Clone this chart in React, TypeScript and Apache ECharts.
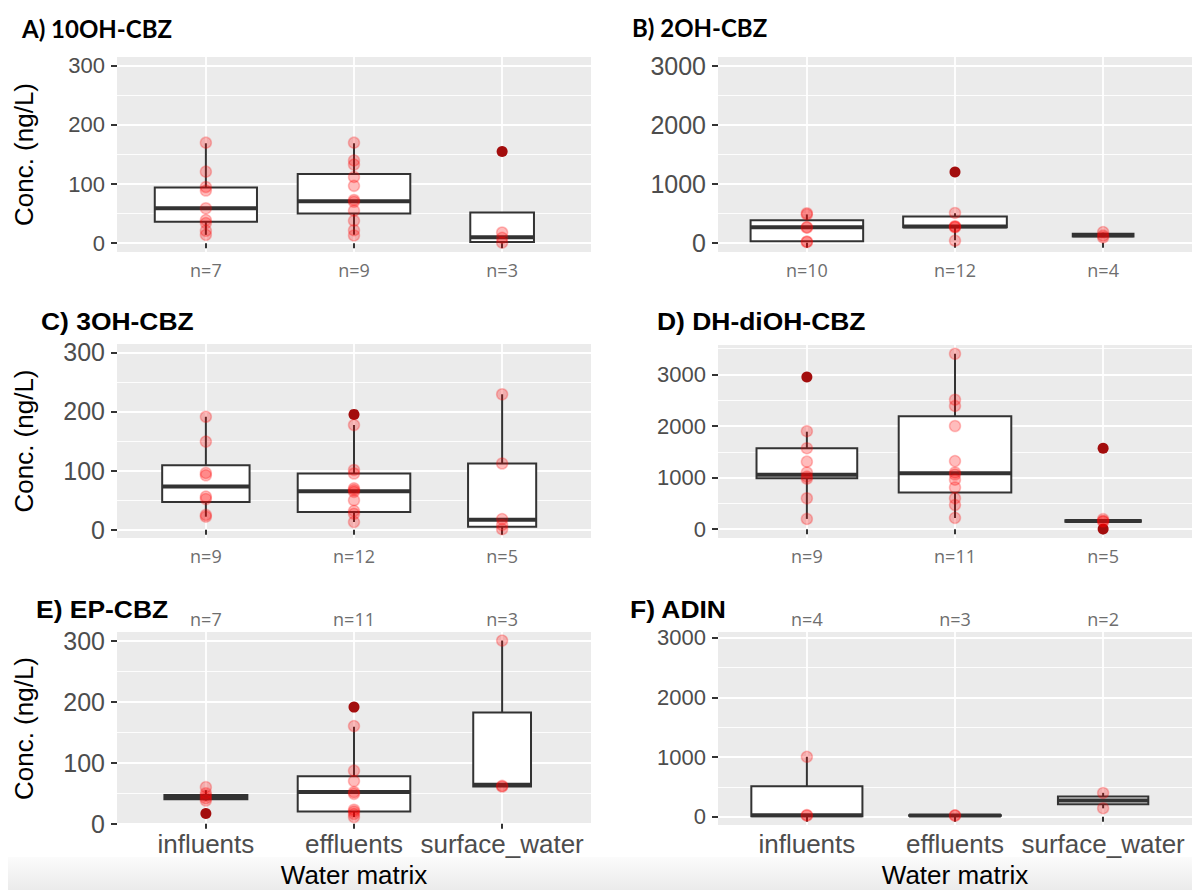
import React, { useEffect, useRef } from 'react';
import * as echarts from 'echarts';

// ---------- DATA ----------
const categories = ['influents', 'effluents', 'surface_water'];

// A) 10OH-CBZ
const nA = ['n=7', 'n=9', 'n=3'];
const boxA = [[14, 36, 59, 94, 169], [14, 50, 71, 117, 169], [0, 2, 10, 52, 52]]; // [low, q1, median, q3, high]
const ptsA = [[170, 121, 95, 89, 59, 39, 34, 21, 14], [170, 140, 133, 112, 97, 73, 70, 55, 38, 22, 13], [18, 9, 1]];
const outA = [[], [], [155]];

// B) 2OH-CBZ
const nB = ['n=10', 'n=12', 'n=4'];
const boxB = [[15, 25, 260, 380, 480], [40, 260, 275, 445, 500], [95, 105, 125, 150, 170]];
const ptsB = [[500, 480, 265, 255, 18, 12], [505, 280, 270, 262, 35], [180, 120, 90]];
const outB = [[], [1200], []];

// C) 3OH-CBZ
const nC = ['n=9', 'n=12', 'n=5'];
const boxC = [[22, 47, 73, 109, 191], [13, 30, 65, 95, 177], [0, 5, 17, 112, 229]];
const ptsC = [[191, 149, 96, 92, 56, 52, 25, 22], [177, 101, 95, 70, 67, 64, 50, 32, 27, 13], [229, 112, 18, 8, 1]];
const outC = [[], [195], []];

// D) DH-diOH-CBZ
const nD = ['n=9', 'n=11', 'n=5'];
const boxD = [[200, 990, 1055, 1570, 1890], [218, 713, 1085, 2190, 3400], [140, 145, 160, 175, 190]];
const ptsD = [[1900, 1570, 1310, 1100, 1020, 980, 600, 200], [3400, 2510, 2390, 2000, 1320, 1100, 1060, 960, 810, 600, 470, 220], [195, 160, 150]];
const outD = [[2950], [], [1570, 5]];

// E) EP-CBZ
const nE = ['n=7', 'n=11', 'n=3'];
const boxE = [[38, 40, 44, 47, 55], [11, 20, 52, 78, 159], [61, 61, 64, 182, 300]];
const ptsE = [[60, 50, 46, 42, 38], [160, 87, 70, 52, 49, 23, 20, 16, 11], [300, 62, 61]];
const outE = [[17], [191], []];

// F) ADIN
const nF = ['n=4', 'n=3', 'n=2'];
const boxF = [[0, 5, 25, 510, 1005], [10, 15, 20, 25, 30], [140, 210, 270, 340, 400]];
const ptsF = [[1005, 25, 20], [22, 18], [398, 142]];
const outF = [[], [], []];

// tick values
const ticksLow = [0, 100, 200, 300];
const minorLow = [50, 150, 250];
const ticksHigh = [0, 1000, 2000, 3000];
const minorHigh = [500, 1500, 2500];
const minorHighD = [500, 1500, 2500, 3500];

// ---------- LAYOUT / STYLE ----------
const boxWidths = {
  A: [0.69, 0.76, 0.43],
  B: [0.76, 0.70, 0.41],
  C: [0.59, 0.76, 0.46],
  D: [0.68, 0.76, 0.51],
  E: [0.56, 0.76, 0.39],
  F: [0.75, 0.62, 0.61],
};

const panels = [
  { key: 'A', title: 'A) 10OH-CBZ', box: boxA, pts: ptsA, out: outA, n: nA, ticks: ticksLow, minor: minorLow, min: -15, max: 315,
    grid: { left: 117, top: 57, width: 474, height: 195 }, bottom: false, yName: true, labelSize: 22,
    t: { x: 22, y: 28, font: 'Lato', size: 24, sx: 1 } },
  { key: 'B', title: 'B) 2OH-CBZ', box: boxB, pts: ptsB, out: outB, n: nB, ticks: ticksHigh, minor: minorHigh, min: -158, max: 3152,
    grid: { left: 718, top: 57, width: 474, height: 195 }, bottom: false, yName: false, labelSize: 25,
    t: { x: 632, y: 27, font: 'Lato', size: 24, sx: 1 } },
  { key: 'C', title: 'C) 3OH-CBZ', box: boxC, pts: ptsC, out: outC, n: nC, ticks: ticksLow, minor: minorLow, min: -14, max: 314,
    grid: { left: 117, top: 344, width: 474, height: 194 }, bottom: false, yName: true, labelSize: 25,
    t: { x: 41, y: 322, font: 'Liberation Sans', size: 23, sx: 1.15 } },
  { key: 'D', title: 'D) DH-diOH-CBZ', box: boxD, pts: ptsD, out: outD, n: nD, ticks: ticksHigh, minor: minorHighD, min: -170, max: 3570,
    grid: { left: 718, top: 345, width: 474, height: 193 }, bottom: false, yName: false, labelSize: 22,
    t: { x: 657, y: 322, font: 'Liberation Sans', size: 23, sx: 1.15 } },
  { key: 'E', title: 'E) EP-CBZ', box: boxE, pts: ptsE, out: outE, n: nE, ticks: ticksLow, minor: minorLow, min: -2, max: 314,
    grid: { left: 117, top: 632, width: 474, height: 193 }, bottom: true, yName: true, labelSize: 25,
    t: { x: 36, y: 610, font: 'Liberation Sans', size: 23, sx: 1.15 } },
  { key: 'F', title: 'F) ADIN', box: boxF, pts: ptsF, out: outF, n: nF, ticks: ticksHigh, minor: minorHigh, min: -140, max: 3100,
    grid: { left: 718, top: 632, width: 474, height: 193 }, bottom: true, yName: false, labelSize: 22,
    t: { x: 630, y: 610, font: 'Liberation Sans', size: 23, sx: 1.15 } },
];

const TICK_COLOR = '#333333';
const LABEL_COLOR = '#4d4d4d';
const N_COLOR = '#6e6e6e';
const BOX_STROKE = '#333333';

const renderBox = (params: any, api: any) => {
  const x = api.value(0);
  const lo = api.value(1), q1 = api.value(2), md = api.value(3), q3 = api.value(4), hi = api.value(5), w = api.value(6);
  const c = api.coord([x, md]);
  const pLo = api.coord([x, lo]);
  const pHi = api.coord([x, hi]);
  const pL = api.coord([x - w / 2, q3]);
  const pR = api.coord([x + w / 2, q1]);
  return {
    type: 'group',
    children: [
      { type: 'line', shape: { x1: c[0], y1: pHi[1], x2: c[0], y2: pL[1] }, style: { stroke: BOX_STROKE, lineWidth: 2 } },
      { type: 'line', shape: { x1: c[0], y1: pR[1], x2: c[0], y2: pLo[1] }, style: { stroke: BOX_STROKE, lineWidth: 2 } },
      { type: 'rect', shape: { x: pL[0], y: pL[1], width: pR[0] - pL[0], height: pR[1] - pL[1] }, style: { fill: '#ffffff', stroke: BOX_STROKE, lineWidth: 2 } },
      { type: 'line', shape: { x1: pL[0], y1: c[1], x2: pR[0], y2: c[1] }, style: { stroke: BOX_STROKE, lineWidth: 4 } },
    ],
  };
};

function buildOption() {
  const grid: any[] = [];
  const xAxis: any[] = [];
  const yAxis: any[] = [];
  const series: any[] = [];
  const graphic: any[] = [];

  panels.forEach((p, gi) => {
    grid.push({ ...p.grid, show: true, backgroundColor: '#ebebeb', borderWidth: 0, containLabel: false });

    const xi = xAxis.length;
    const bottomLabels = p.bottom ? categories : p.n;
    xAxis.push({
      type: 'value', gridIndex: gi, min: 0.4, max: 3.6, position: 'bottom',
      axisLine: { show: false },
      axisTick: { show: true, customValues: [1, 2, 3], length: 5, lineStyle: { color: TICK_COLOR, width: 2 } },
      axisLabel: {
        customValues: [1, 2, 3],
        formatter: (v: number) => bottomLabels[Math.round(v) - 1] || '',
        color: p.bottom ? LABEL_COLOR : N_COLOR,
        fontSize: p.bottom ? 26 : 18,
        fontFamily: p.bottom ? 'Liberation Sans' : 'Open Sans',
        margin: p.bottom ? 6 : 9,
      },
      splitLine: { show: true, lineStyle: { color: '#ffffff', width: 1.8 } },
      name: p.bottom ? 'Water matrix' : '',
      nameLocation: 'middle', nameGap: 37,
      nameTextStyle: { color: '#000', fontSize: 26, fontFamily: 'Liberation Sans' },
    });
    if (p.bottom) {
      xAxis.push({
        type: 'value', gridIndex: gi, min: 0.4, max: 3.6, position: 'top',
        axisLine: { show: false }, axisTick: { show: false, customValues: [1, 2, 3] },
        splitLine: { show: false },
        axisLabel: {
          customValues: [1, 2, 3],
          formatter: (v: number) => p.n[Math.round(v) - 1] || '',
          color: N_COLOR, fontSize: 18, fontFamily: 'Open Sans', margin: 4,
        },
      });
    }

    const yi = yAxis.length;
    yAxis.push({
      type: 'value', gridIndex: gi, min: p.min, max: p.max, position: 'left',
      axisLine: { show: false },
      axisTick: { show: true, customValues: p.ticks, length: 6, lineStyle: { color: TICK_COLOR, width: 2 } },
      axisLabel: {
        customValues: p.ticks, formatter: (v: number) => String(v),
        color: LABEL_COLOR, fontSize: p.labelSize, fontFamily: 'Liberation Sans', margin: 12,
      },
      splitLine: { show: true, lineStyle: { color: '#ffffff', width: 1.8 } },
      name: p.yName ? 'Conc. (ng/L)' : '',
      nameLocation: 'middle', nameGap: 80, nameRotate: 90,
      nameTextStyle: { color: '#000', fontSize: 26, fontFamily: 'Liberation Sans' },
    });
    yAxis.push({
      type: 'value', gridIndex: gi, min: p.min, max: p.max, position: 'left',
      axisLine: { show: false },
      axisTick: { show: false, customValues: p.minor },
      axisLabel: { show: false, customValues: p.minor },
      splitLine: { show: true, lineStyle: { color: '#ffffff', width: 0.9 } },
    });

    const w = (boxWidths as any)[p.key];
    series.push({
      type: 'custom', xAxisIndex: xi, yAxisIndex: yi, renderItem: renderBox, clip: false, z: 2,
      dimensions: ['x', 'low', 'q1', 'median', 'q3', 'high', 'w'],
      encode: { x: 0, y: [1, 2, 3, 4, 5] },
      data: p.box.map((b, i) => [i + 1, ...b, w[i]]),
    });
    series.push({
      type: 'scatter', xAxisIndex: xi, yAxisIndex: yi, z: 3,
      symbolSize: 11,
      itemStyle: { color: '#a30d0d', opacity: 1 },
      data: p.out.flatMap((arr, i) => arr.map((v) => [i + 1, v])),
    });
    series.push({
      type: 'scatter', xAxisIndex: xi, yAxisIndex: yi, z: 4,
      symbolSize: 11,
      itemStyle: { color: 'rgba(255,0,0,0.33)', borderColor: 'rgba(255,0,0,0.3)', borderWidth: 1.5 },
      data: p.pts.flatMap((arr, i) => arr.map((v) => [i + 1, v])),
    });

    graphic.push({
      type: 'text', x: p.t.x, y: p.t.y, scaleX: p.t.sx,
      style: { text: p.title, fill: '#000', fontSize: p.t.size, fontWeight: 'bold', fontFamily: p.t.font, verticalAlign: 'middle', align: 'left' },
    });
  });

  graphic.unshift({
    type: 'rect', x: 8, y: 857, z: -10, silent: true,
    shape: { width: 1184, height: 33 },
    style: {
      fill: new echarts.graphic.LinearGradient(0, 0, 0, 1, [
        { offset: 0, color: '#fbfbfb' },
        { offset: 1, color: '#ebebeb' },
      ]),
    },
  });

  return {
    animation: false,
    backgroundColor: '#ffffff',
    grid, xAxis, yAxis, series, graphic,
  };
}

export default function App() {
  const ref = useRef<HTMLDivElement>(null);
  useEffect(() => {
    if (!ref.current) return;
    const chart = echarts.init(ref.current, undefined, { renderer: 'svg' });
    chart.setOption(buildOption() as any);
    return () => chart.dispose();
  }, []);
  return <div ref={ref} style={{ position: 'absolute', left: 0, top: 0, width: 1192, height: 890 }} />;
}
